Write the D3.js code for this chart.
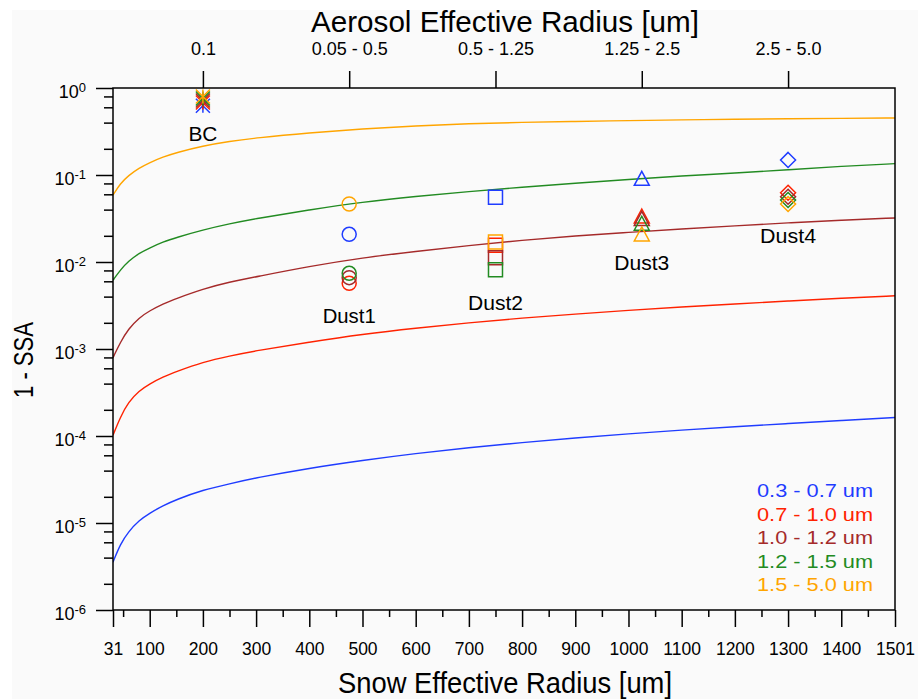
<!DOCTYPE html>
<html>
<head>
<meta charset="utf-8">
<script src="https://cdn.jsdelivr.net/npm/d3@7"></script>
<style>
  html, body { margin: 0; padding: 0; background: #ffffff; }
  svg { display: block; }
  text { font-family: "Liberation Sans", Arial, Helvetica, sans-serif; fill: #000; }
</style>
</head>
<body>
<svg id="chart" width="918" height="699"></svg>
<script>
// ---------------- DATA ----------------
const snowRadius = [31, 45, 60, 80, 100, 125, 150, 200, 250, 300, 400, 500, 600, 700, 800, 900, 1000, 1100, 1200, 1300, 1400, 1501];

const ssaBand1 = [3.55e-6, 5.75e-6, 7.94e-6, 1.07e-5, 1.30e-5, 1.58e-5, 1.86e-5, 2.40e-5, 2.82e-5, 3.31e-5, 4.27e-5, 5.25e-5, 6.31e-5, 7.36e-5, 8.41e-5, 9.50e-5, 1.06e-4, 1.17e-4, 1.28e-4, 1.39e-4, 1.51e-4, 1.63e-4];
const ssaBand2 = [1.02e-4, 1.66e-4, 2.45e-4, 3.31e-4, 3.98e-4, 4.79e-4, 5.50e-4, 7.08e-4, 8.32e-4, 9.55e-4, 1.20e-3, 1.48e-3, 1.74e-3, 2.00e-3, 2.27e-3, 2.52e-3, 2.78e-3, 3.04e-3, 3.30e-3, 3.56e-3, 3.83e-3, 4.09e-3];
const ssaBand3 = [7.94e-4, 1.20e-3, 1.70e-3, 2.29e-3, 2.75e-3, 3.31e-3, 3.80e-3, 4.90e-3, 5.89e-3, 6.76e-3, 8.91e-3, 0.0112, 0.0132, 0.0155, 0.0178, 0.0200, 0.0219, 0.0240, 0.0260, 0.0282, 0.0302, 0.0321];
const ssaBand4 = [6.17e-3, 8.13e-3, 0.0102, 0.0126, 0.0145, 0.0170, 0.0191, 0.0234, 0.0275, 0.0316, 0.0398, 0.0490, 0.0569, 0.0646, 0.0724, 0.0804, 0.0891, 0.0977, 0.105, 0.115, 0.126, 0.135];
const ssaBand5 = [0.0589, 0.0800, 0.0984, 0.120, 0.139, 0.161, 0.181, 0.216, 0.244, 0.267, 0.305, 0.339, 0.367, 0.389, 0.403, 0.412, 0.422, 0.430, 0.437, 0.443, 0.448, 0.452];

const bandLabels = ["0.3 - 0.7 um", "0.7 - 1.0 um", "1.0 - 1.2 um", "1.2 - 1.5 um", "1.5 - 5.0 um"];
const bandColors = ["#1f3cff", "#ff2200", "#a52a2a", "#228b22", "#ffa500"];

const aerosolNames = ["BC", "Dust1", "Dust2", "Dust3", "Dust4"];
const aerosolSnowX = [200, 475, 750, 1025, 1300];
const aerosolTopLabels = ["0.1", "0.05 - 0.5", "0.5 - 1.25", "1.25 - 2.5", "2.5 - 5.0"];
const aerosolMarkers = ["asterisk", "circle", "square", "triangle", "diamond"];
const aerosolLabelY = [0.304, 2.46e-3, 3.47e-3, 0.0100, 0.0204];

// aerosol 1-SSA per band, in order BC, Dust1..Dust4
const aerBand1 = [0.626, 0.0208, 0.0554, 0.0916, 0.149];
const aerBand2 = [0.681, 0.00569, 0.0156, 0.0338, 0.0626];
const aerBand3 = [0.718, 0.00661, 0.0112, 0.0317, 0.0563];
const aerBand4 = [0.757, 0.00741, 0.00816, 0.0279, 0.0516];
const aerBand5 = [0.800, 0.0464, 0.0170, 0.0210, 0.0464];

const xMajorTicks = [31, 100, 200, 300, 400, 500, 600, 700, 800, 900, 1000, 1100, 1200, 1300, 1400, 1501];
const xMinorTicks = [50, 150, 250, 350, 450, 550, 650, 750, 850, 950, 1050, 1150, 1250, 1350, 1450];
const yDecades = [1e-6, 1e-5, 1e-4, 1e-3, 1e-2, 1e-1, 1];
const yExponents = ["-6", "-5", "-4", "-3", "-2", "-1", "0"];
const yMinorMultipliers = [2, 4, 6, 8];

// ---------------- LAYOUT ----------------
const L = 113, R = 895, T = 88, B = 610;
const svg = d3.select("#chart");

svg.append("rect").attr("x", 12).attr("y", 10).attr("width", 906).attr("height", 689).attr("fill", "#fafafa");

const x = d3.scaleLinear().domain([31, 1501]).range([L, R]);
const y = d3.scaleLog().domain([1e-6, 1]).range([B, T]);

svg.append("clipPath").attr("id", "clip")
  .append("rect").attr("x", L).attr("y", T).attr("width", R - L).attr("height", B - T);

// ---------------- CURVES ----------------
const bandSeries = [ssaBand1, ssaBand2, ssaBand3, ssaBand4, ssaBand5];
const line = d3.line()
  .x((d, i) => x(snowRadius[i]))
  .y(d => y(d))
  .curve(d3.curveBasis);

const gCurves = svg.append("g").attr("clip-path", "url(#clip)");
bandSeries.forEach((s, k) => {
  gCurves.append("path").datum(s)
    .attr("d", line)
    .attr("fill", "none")
    .attr("stroke", bandColors[k])
    .attr("stroke-width", 1.4);
});

// ---------------- MARKERS ----------------
const half = 7;
const shapes = {
  asterisk: (cx, cy) => { const p = d3.path();
    p.moveTo(cx, cy - half); p.lineTo(cx, cy + half);
    p.moveTo(cx - half, cy - half); p.lineTo(cx + half, cy + half);
    p.moveTo(cx - half, cy + half); p.lineTo(cx + half, cy - half);
    return p.toString(); },
  circle: (cx, cy) => { const p = d3.path(); p.moveTo(cx + half, cy); p.arc(cx, cy, half, 0, 2 * Math.PI); return p.toString(); },
  square: (cx, cy) => { const p = d3.path(); p.rect(cx - half, cy - half, 2 * half, 2 * half); return p.toString(); },
  triangle: (cx, cy) => { const p = d3.path();
    p.moveTo(cx, cy - half); p.lineTo(cx + half + 0.5, cy + half); p.lineTo(cx - half - 0.5, cy + half); p.closePath(); return p.toString(); },
  diamond: (cx, cy) => { const p = d3.path();
    p.moveTo(cx, cy - half - 0.5); p.lineTo(cx + half + 0.5, cy); p.lineTo(cx, cy + half + 0.5); p.lineTo(cx - half - 0.5, cy); p.closePath(); return p.toString(); }
};

const aerSeries = [aerBand1, aerBand2, aerBand3, aerBand4, aerBand5];
const gMarks = svg.append("g");
aerSeries.forEach((s, k) => {
  s.forEach((v, j) => {
    gMarks.append("path")
      .attr("d", shapes[aerosolMarkers[j]](x(aerosolSnowX[j]), y(v)))
      .attr("fill", "none")
      .attr("stroke", bandColors[k])
      .attr("stroke-width", 1.5);
  });
});

// aerosol labels
const labelWidths = [29, 53, 55, 55, 56];
aerosolNames.forEach((n, j) => {
  svg.append("text")
    .attr("x", x(aerosolSnowX[j]))
    .attr("y", y(aerosolLabelY[j]))
    .attr("dy", "0.36em")
    .attr("text-anchor", "middle")
    .attr("font-size", 21)
    .attr("textLength", labelWidths[j])
    .attr("lengthAdjust", "spacingAndGlyphs")
    .text(n);
});

// ---------------- AXES ----------------
const axisStyle = g => {
  g.selectAll("path.domain").remove();
  g.selectAll("line").attr("stroke", "#000").attr("stroke-width", 1.5);
  g.selectAll("text").attr("font-family", "Liberation Sans, Arial, sans-serif").attr("fill", "#000");
};

// bottom
svg.append("g").attr("transform", `translate(0,${B})`)
  .call(d3.axisBottom(x).tickValues(xMajorTicks).tickSize(17).tickPadding(16).tickFormat(d3.format("d")))
  .call(axisStyle)
  .call(g => g.selectAll("text").attr("font-size", 17.5));
svg.append("g").attr("transform", `translate(0,${B})`)
  .call(d3.axisBottom(x).tickValues(xMinorTicks).tickSize(7).tickFormat(""))
  .call(axisStyle);

// top
svg.append("g").attr("transform", `translate(0,${T})`)
  .call(d3.axisTop(x).tickValues(aerosolSnowX).tickSize(17).tickPadding(16).tickFormat((d, i) => aerosolTopLabels[i]))
  .call(axisStyle)
  .call(g => g.selectAll("text").attr("font-size", 18));

// left
const yMinor = [];
yDecades.slice(0, -1).forEach(d => yMinorMultipliers.forEach(m => yMinor.push(d * m)));
svg.append("g").attr("transform", `translate(${L},0)`)
  .call(d3.axisLeft(y).tickValues(yDecades).tickSize(17).tickFormat(""))
  .call(axisStyle);
svg.append("g").attr("transform", `translate(${L},0)`)
  .call(d3.axisLeft(y).tickValues(yMinor).tickSize(9).tickFormat(""))
  .call(axisStyle);

yDecades.forEach((d, i) => {
  const t = svg.append("text")
    .attr("x", 86).attr("y", y(d) + 10)
    .attr("text-anchor", "end")
    .attr("font-size", 18);
  t.append("tspan").text("10");
  t.append("tspan").attr("dy", -6).attr("font-size", 13).text(yExponents[i]);
});

// plot frame
svg.append("rect").attr("x", L).attr("y", T).attr("width", R - L).attr("height", B - T)
  .attr("fill", "none").attr("stroke", "#000").attr("stroke-width", 1.5);

// ---------------- TITLES ----------------
svg.append("text").attr("x", (L + R) / 2 + 1).attr("y", 32)
  .attr("text-anchor", "middle").attr("font-size", 30)
  .attr("textLength", 388).attr("lengthAdjust", "spacingAndGlyphs")
  .text("Aerosol Effective Radius [um]");

svg.append("text").attr("x", (L + R) / 2 + 1).attr("y", 693)
  .attr("text-anchor", "middle").attr("font-size", 30)
  .attr("textLength", 334).attr("lengthAdjust", "spacingAndGlyphs")
  .text("Snow Effective Radius [um]");

svg.append("text").attr("transform", "translate(33,360) rotate(-90)")
  .attr("text-anchor", "middle").attr("font-size", 28)
  .attr("textLength", 76).attr("lengthAdjust", "spacingAndGlyphs")
  .text("1 - SSA");

// ---------------- LEGEND ----------------
bandLabels.forEach((lab, k) => {
  svg.append("text")
    .attr("x", 757).attr("y", 497 + k * 23.5)
    .attr("font-size", 19)
    .attr("fill", bandColors[k])
    .style("fill", bandColors[k])
    .attr("textLength", 116).attr("lengthAdjust", "spacingAndGlyphs")
    .text(lab);
});
</script>
</body>
</html>
